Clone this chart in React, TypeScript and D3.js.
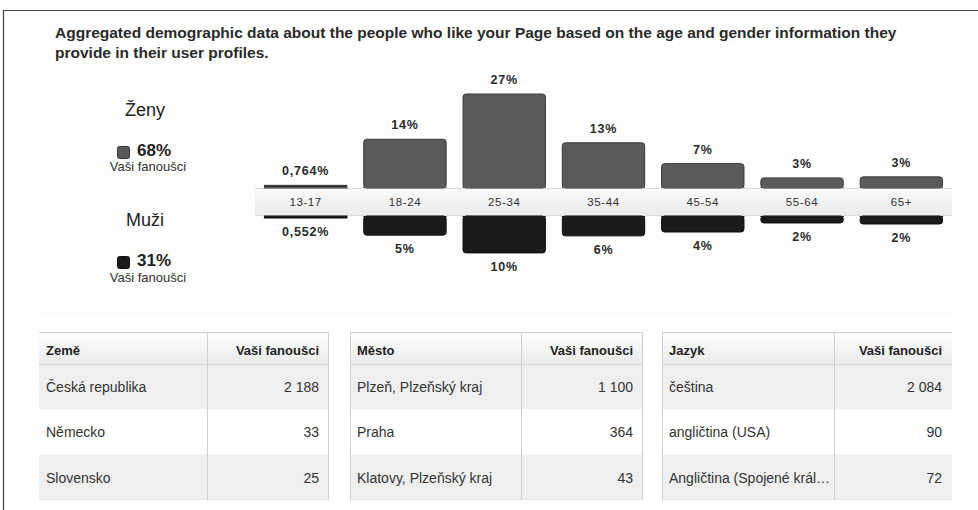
import React from "react";
import * as d3 from "d3";

const ageGroups = ["13-17", "18-24", "25-34", "35-44", "45-54", "55-64", "65+"];
const womenValues = [0.764, 14, 27, 13, 7, 2.9, 3.2];
const womenLabels = ["0,764%", "14%", "27%", "13%", "7%", "3%", "3%"];
const menValues = [0.552, 5.5, 10.6, 5.7, 4.6, 2.0, 2.3];
const menLabels = ["0,552%", "5%", "10%", "6%", "4%", "2%", "2%"];

const countryNames = ["Česká republika", "Německo", "Slovensko"];
const countryFans = ["2 188", "33", "25"];
const cityNames = ["Plzeň, Plzeňský kraj", "Praha", "Klatovy, Plzeňský kraj"];
const cityFans = ["1 100", "364", "43"];
const languageNames = ["čeština", "angličtina (USA)", "Angličtina (Spojené král…"];
const languageFans = ["2 084", "90", "72"];

const FONT = "'Liberation Sans', Arial, Helvetica, sans-serif";

export default function App() {
  const W = 978;
  const H = 510;
  const bandTop = 188;
  const bandBottom = 216;
  const x = d3.scaleBand<string>().domain(ageGroups).range([258, 949]).paddingInner(0.16).paddingOuter(0.06);
  const h = d3.scaleLinear().domain([0, 27]).range([0, 94]);

  const tables = [
    { x0: 39, x1: 329, div: 207, head: "Země", names: countryNames, fans: countryFans, leftLine: false, rightLine: true },
    { x0: 350, x1: 643, div: 521, head: "Město", names: cityNames, fans: cityFans, leftLine: true, rightLine: true },
    { x0: 662, x1: 952, div: 834, head: "Jazyk", names: languageNames, fans: languageFans, leftLine: true, rightLine: false },
  ];
  const headTop = 332;
  const headBottom = 364;
  const rowH = 45.3;

  return (
    <div style={{ position: "absolute", left: 0, top: 0, width: W, height: H, background: "#fff" }}>
      <svg width={W} height={H} style={{ display: "block", fontFamily: FONT }}>
        <defs>
          <linearGradient id="band" x1="0" y1="0" x2="0" y2="1">
            <stop offset="0" stopColor="#fbfbfb" />
            <stop offset="0.5" stopColor="#f1f1f1" />
            <stop offset="1" stopColor="#ececec" />
          </linearGradient>
          <linearGradient id="head" x1="0" y1="0" x2="0" y2="1">
            <stop offset="0" stopColor="#ffffff" />
            <stop offset="1" stopColor="#ebebeb" />
          </linearGradient>
        </defs>
        <rect x={0} y={0} width={W} height={H} fill="#fff" />
        <rect x={40} y={62} width={912} height={255} fill="#fdfdfd" />
        {/* frame */}
        <line x1={3} y1={10.5} x2={W} y2={10.5} stroke="#444" strokeWidth={1.2} />
        <line x1={3.5} y1={10} x2={3.5} y2={H} stroke="#444" strokeWidth={1.2} />

        {/* title */}
        <text x={55} y={38} fontSize={15.5} fontWeight="bold" fill="#2a2a2a">
          Aggregated demographic data about the people who like your Page based on the age and gender information they
        </text>
        <text x={55} y={58} fontSize={15.5} fontWeight="bold" fill="#2a2a2a">
          provide in their user profiles.
        </text>

        {/* legend */}
        <text x={145} y={116} fontSize={18} textAnchor="middle" fill="#222">Ženy</text>
        <rect x={117.5} y={146.5} width={12} height={12} rx={2} fill="#5a5a5a" stroke="#333" />
        <text x={137} y={156} fontSize={17} fontWeight="bold" fill="#222">68%</text>
        <text x={148} y={171} fontSize={13} textAnchor="middle" fill="#333">Vaši fanoušci</text>

        <text x={145} y={226} fontSize={18} textAnchor="middle" fill="#222">Muži</text>
        <rect x={117.5} y={256.5} width={12} height={12} rx={2} fill="#1a1a1a" stroke="#111" />
        <text x={137} y={266} fontSize={17} fontWeight="bold" fill="#222">31%</text>
        <text x={148} y={282} fontSize={13} textAnchor="middle" fill="#333">Vaši fanoušci</text>

        {/* band */}
        <rect x={255} y={bandTop} width={697} height={bandBottom - bandTop} fill="url(#band)" />
        <line x1={255} x2={952} y1={bandTop + 0.5} y2={bandTop + 0.5} stroke="#dcdcdc" />
        <line x1={255} x2={952} y1={bandBottom - 0.5} y2={bandBottom - 0.5} stroke="#dcdcdc" />

        {ageGroups.map((g, i) => {
          const bx = x(g)!;
          const bw = x.bandwidth();
          const cx = bx + bw / 2;
          const th = Math.max(h(womenValues[i]), 2);
          const mh = Math.max(h(menValues[i]), 2);
          return (
            <g key={g}>
              <rect x={bx + 0.5} y={bandTop - th} width={bw - 1} height={th} rx={th > 4 ? 3 : 0}
                fill={th > 4 ? "#5a5a5a" : "#2a2a2a"} stroke="#3a3a3a" strokeWidth={1} />
              <rect x={bx} y={bandTop - 1} width={bw} height={1} fill="#5a5a5a" />
              <rect x={bx + 0.5} y={bandBottom} width={bw - 1} height={mh} rx={mh > 4 ? 3 : 0}
                fill="#1b1b1b" stroke="#0e0e0e" strokeWidth={1} />
              <rect x={bx} y={bandBottom} width={bw} height={1} fill="#1b1b1b" />
              <text x={cx} y={bandTop - th - 10} fontSize={12.5} fontWeight="bold" textAnchor="middle"
                fill="#2a2a2a" letterSpacing={0.8}>{womenLabels[i]}</text>
              <text x={cx} y={bandBottom + mh + 18} fontSize={12.5} fontWeight="bold" textAnchor="middle"
                fill="#2a2a2a" letterSpacing={0.8}>{menLabels[i]}</text>
              <text x={cx} y={206} fontSize={11.5} textAnchor="middle" fill="#333" letterSpacing={0.6}>{g}</text>
            </g>
          );
        })}

        {/* tables */}
        {tables.map((t, ti) => (
          <g key={ti}>
            <rect x={t.x0} y={headTop} width={t.x1 - t.x0} height={headBottom - headTop} fill="url(#head)" />
            {t.names.map((n, ri) => (
              <rect key={ri} x={t.x0} y={headBottom + ri * rowH} width={t.x1 - t.x0} height={rowH}
                fill={ri % 2 === 0 ? "#efefef" : "#ffffff"} />
            ))}
            <line x1={t.x0} x2={t.x1} y1={headTop + 0.5} y2={headTop + 0.5} stroke="#cfcfcf" />
            <line x1={t.x0} x2={t.x1} y1={headBottom + 0.5} y2={headBottom + 0.5} stroke="#d5d5d5" />
            <line x1={t.x0} x2={t.x1} y1={headBottom + 3 * rowH - 0.5} y2={headBottom + 3 * rowH - 0.5} stroke="#e2e2e2" />
            <line x1={t.div + 0.5} x2={t.div + 0.5} y1={headTop} y2={headBottom + 3 * rowH} stroke="#cfcfcf" />
            {t.leftLine && <line x1={t.x0 + 0.5} x2={t.x0 + 0.5} y1={headTop} y2={headBottom + 3 * rowH} stroke="#cfcfcf" />}
            {t.rightLine && <line x1={t.x1 - 0.5} x2={t.x1 - 0.5} y1={headTop} y2={headBottom + 3 * rowH} stroke="#cfcfcf" />}
            <text x={t.x0 + 7} y={355} fontSize={13} fontWeight="bold" fill="#222">{t.head}</text>
            <text x={t.x1 - 10} y={355} fontSize={13} fontWeight="bold" fill="#222" textAnchor="end">Vaši fanoušci</text>
            {t.names.map((n, ri) => (
              <g key={"r" + ri}>
                <text x={t.x0 + 7} y={headBottom + ri * rowH + 28} fontSize={14} fill="#333">{n}</text>
                <text x={t.x1 - 10} y={headBottom + ri * rowH + 28} fontSize={14} fill="#333" textAnchor="end">{t.fans[ri]}</text>
              </g>
            ))}
          </g>
        ))}
      </svg>
    </div>
  );
}
